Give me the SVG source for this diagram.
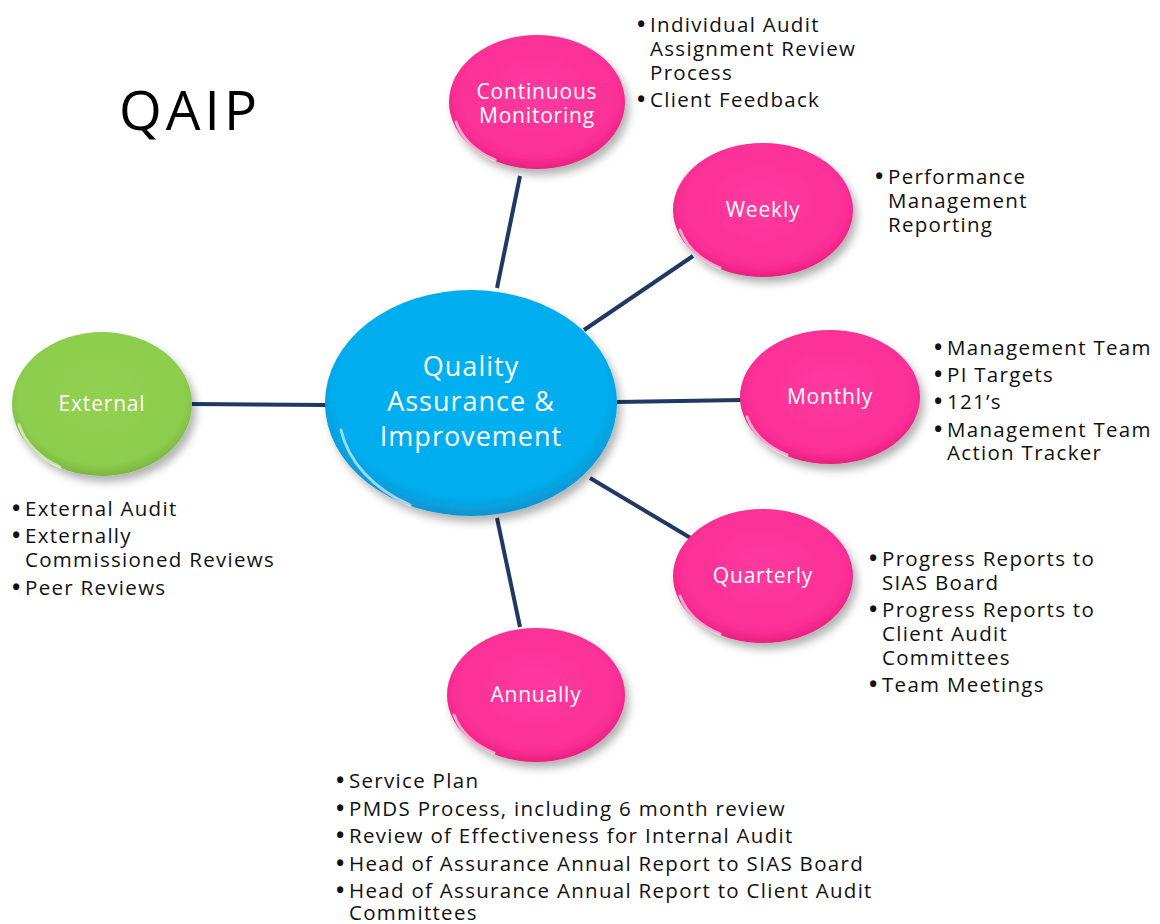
<svg xmlns="http://www.w3.org/2000/svg" width="1160" height="924" viewBox="0 0 1160 924">
<style>
.lbl{font-family:"Open Sans",Lato,"Liberation Sans",sans-serif;fill:#ffffff;text-anchor:middle;font-size:21px;letter-spacing:0.8px}
.big{font-size:27px;letter-spacing:1px}
.lst{font-family:"Open Sans",Lato,"Liberation Sans",sans-serif;fill:#111111;font-size:20.5px;letter-spacing:1.3px}
.b{font-weight:bold;font-size:22px;letter-spacing:0}
.title{font-family:"Open Sans",Lato,"Liberation Sans",sans-serif;fill:#000000;font-size:55px;letter-spacing:4px}
.conn{stroke:#1f3864;stroke-width:4;fill:none;stroke-linecap:butt}
.rim{fill:none;stroke:#ffffff;stroke-width:3;stroke-linecap:round;opacity:0.6}
</style>
<defs>
<filter id="sh" x="-20%" y="-20%" width="150%" height="150%">
<feDropShadow dx="4" dy="6" stdDeviation="4" flood-color="#000000" flood-opacity="0.3"/>
</filter>
<radialGradient id="pink" cx="0.5" cy="0.45" r="0.55">
<stop offset="0" stop-color="#ff3aa0"/>
<stop offset="0.85" stop-color="#fb2f96"/>
<stop offset="1" stop-color="#e8207f"/>
</radialGradient>
<radialGradient id="blue" cx="0.5" cy="0.45" r="0.55">
<stop offset="0" stop-color="#00b0f0"/>
<stop offset="0.85" stop-color="#04adee"/>
<stop offset="1" stop-color="#0a94d0"/>
</radialGradient>
<radialGradient id="green" cx="0.5" cy="0.45" r="0.55">
<stop offset="0" stop-color="#92d050"/>
<stop offset="0.85" stop-color="#8dcd4d"/>
<stop offset="1" stop-color="#7cb63f"/>
</radialGradient>
</defs>
<rect width="1160" height="924" fill="#ffffff"/>

<text class="title" x="119" y="130">QAIP</text>

<g id="connectors">
<line class="conn" x1="497" y1="288" x2="520" y2="176"/>
<line class="conn" x1="584" y1="330" x2="693" y2="256"/>
<line class="conn" x1="617" y1="402" x2="742" y2="400"/>
<line class="conn" x1="590" y1="478" x2="694" y2="540"/>
<line class="conn" x1="497" y1="518" x2="520" y2="627"/>
<line class="conn" x1="192" y1="404" x2="326" y2="405"/>
</g>

<g id="center">
<ellipse cx="471" cy="403" rx="146" ry="113" fill="url(#blue)" filter="url(#sh)"/>
<path class="rim" d="M 341 430 A 140 108 0 0 0 410 505"/>
<text class="lbl big" x="471" y="376">Quality</text>
<text class="lbl big" x="471" y="411">Assurance &amp;</text>
<text class="lbl big" x="471" y="446">Improvement</text>
</g>

<g id="continuous">
<ellipse cx="537" cy="102" rx="88" ry="67" fill="url(#pink)" filter="url(#sh)"/>
<path class="rim" d="M 456 122 A 84 63 0 0 0 495 160"/>
<text class="lbl" x="537" y="99">Continuous</text>
<text class="lbl" x="537" y="123">Monitoring</text>
</g>

<g id="weekly">
<ellipse cx="763" cy="210" rx="90" ry="67" fill="url(#pink)" filter="url(#sh)"/>
<path class="rim" d="M 680 230 A 86 63 0 0 0 720 268"/>
<text class="lbl" x="763" y="217">Weekly</text>
</g>

<g id="monthly">
<ellipse cx="830" cy="397" rx="90" ry="67" fill="url(#pink)" filter="url(#sh)"/>
<path class="rim" d="M 747 417 A 86 63 0 0 0 787 455"/>
<text class="lbl" x="830" y="404">Monthly</text>
</g>

<g id="quarterly">
<ellipse cx="763" cy="576" rx="90" ry="67" fill="url(#pink)" filter="url(#sh)"/>
<path class="rim" d="M 680 596 A 86 63 0 0 0 720 634"/>
<text class="lbl" x="763" y="583">Quarterly</text>
</g>

<g id="annually">
<ellipse cx="536" cy="695" rx="89" ry="67" fill="url(#pink)" filter="url(#sh)"/>
<path class="rim" d="M 454 715 A 85 63 0 0 0 494 753"/>
<text class="lbl" x="536" y="702">Annually</text>
</g>

<g id="external">
<ellipse cx="102" cy="404" rx="90" ry="72" fill="url(#green)" filter="url(#sh)"/>
<path class="rim" d="M 19 425 A 86 68 0 0 0 60 467"/>
<text class="lbl" x="102" y="411">External</text>
</g>

<g id="list-continuous">
<text class="lst" y="32"><tspan class="b" x="637">•</tspan><tspan x="650">Individual Audit</tspan></text>
<text class="lst" x="650" y="56">Assignment Review</text>
<text class="lst" x="650" y="80">Process</text>
<text class="lst" y="107"><tspan class="b" x="637">•</tspan><tspan x="650">Client Feedback</tspan></text>
</g>

<g id="list-weekly">
<text class="lst" y="184"><tspan class="b" x="875">•</tspan><tspan x="888">Performance</tspan></text>
<text class="lst" x="888" y="208">Management</text>
<text class="lst" x="888" y="232">Reporting</text>
</g>

<g id="list-monthly">
<text class="lst" y="355"><tspan class="b" x="934">•</tspan><tspan x="947">Management Team</tspan></text>
<text class="lst" y="382"><tspan class="b" x="934">•</tspan><tspan x="947">PI Targets</tspan></text>
<text class="lst" y="409"><tspan class="b" x="934">•</tspan><tspan x="947">121’s</tspan></text>
<text class="lst" y="437"><tspan class="b" x="934">•</tspan><tspan x="947">Management Team</tspan></text>
<text class="lst" x="947" y="460">Action Tracker</text>
</g>

<g id="list-quarterly">
<text class="lst" y="566"><tspan class="b" x="869">•</tspan><tspan x="882">Progress Reports to</tspan></text>
<text class="lst" x="882" y="590">SIAS Board</text>
<text class="lst" y="617"><tspan class="b" x="869">•</tspan><tspan x="882">Progress Reports to</tspan></text>
<text class="lst" x="882" y="641">Client Audit</text>
<text class="lst" x="882" y="665">Committees</text>
<text class="lst" y="692"><tspan class="b" x="869">•</tspan><tspan x="882">Team Meetings</tspan></text>
</g>

<g id="list-external">
<text class="lst" y="516"><tspan class="b" x="12">•</tspan><tspan x="25">External Audit</tspan></text>
<text class="lst" y="543"><tspan class="b" x="12">•</tspan><tspan x="25">Externally</tspan></text>
<text class="lst" x="25" y="567">Commissioned Reviews</text>
<text class="lst" y="595"><tspan class="b" x="12">•</tspan><tspan x="25">Peer Reviews</tspan></text>
</g>

<g id="list-annually">
<text class="lst" y="788"><tspan class="b" x="336">•</tspan><tspan x="349">Service Plan</tspan></text>
<text class="lst" y="816"><tspan class="b" x="336">•</tspan><tspan x="349">PMDS Process, including 6 month review</tspan></text>
<text class="lst" y="843"><tspan class="b" x="336">•</tspan><tspan x="349">Review of Effectiveness for Internal Audit</tspan></text>
<text class="lst" y="871"><tspan class="b" x="336">•</tspan><tspan x="349">Head of Assurance Annual Report to SIAS Board</tspan></text>
<text class="lst" y="898"><tspan class="b" x="336">•</tspan><tspan x="349">Head of Assurance Annual Report to Client  Audit</tspan></text>
<text class="lst" x="349" y="920">Committees</text>
</g>
</svg>
